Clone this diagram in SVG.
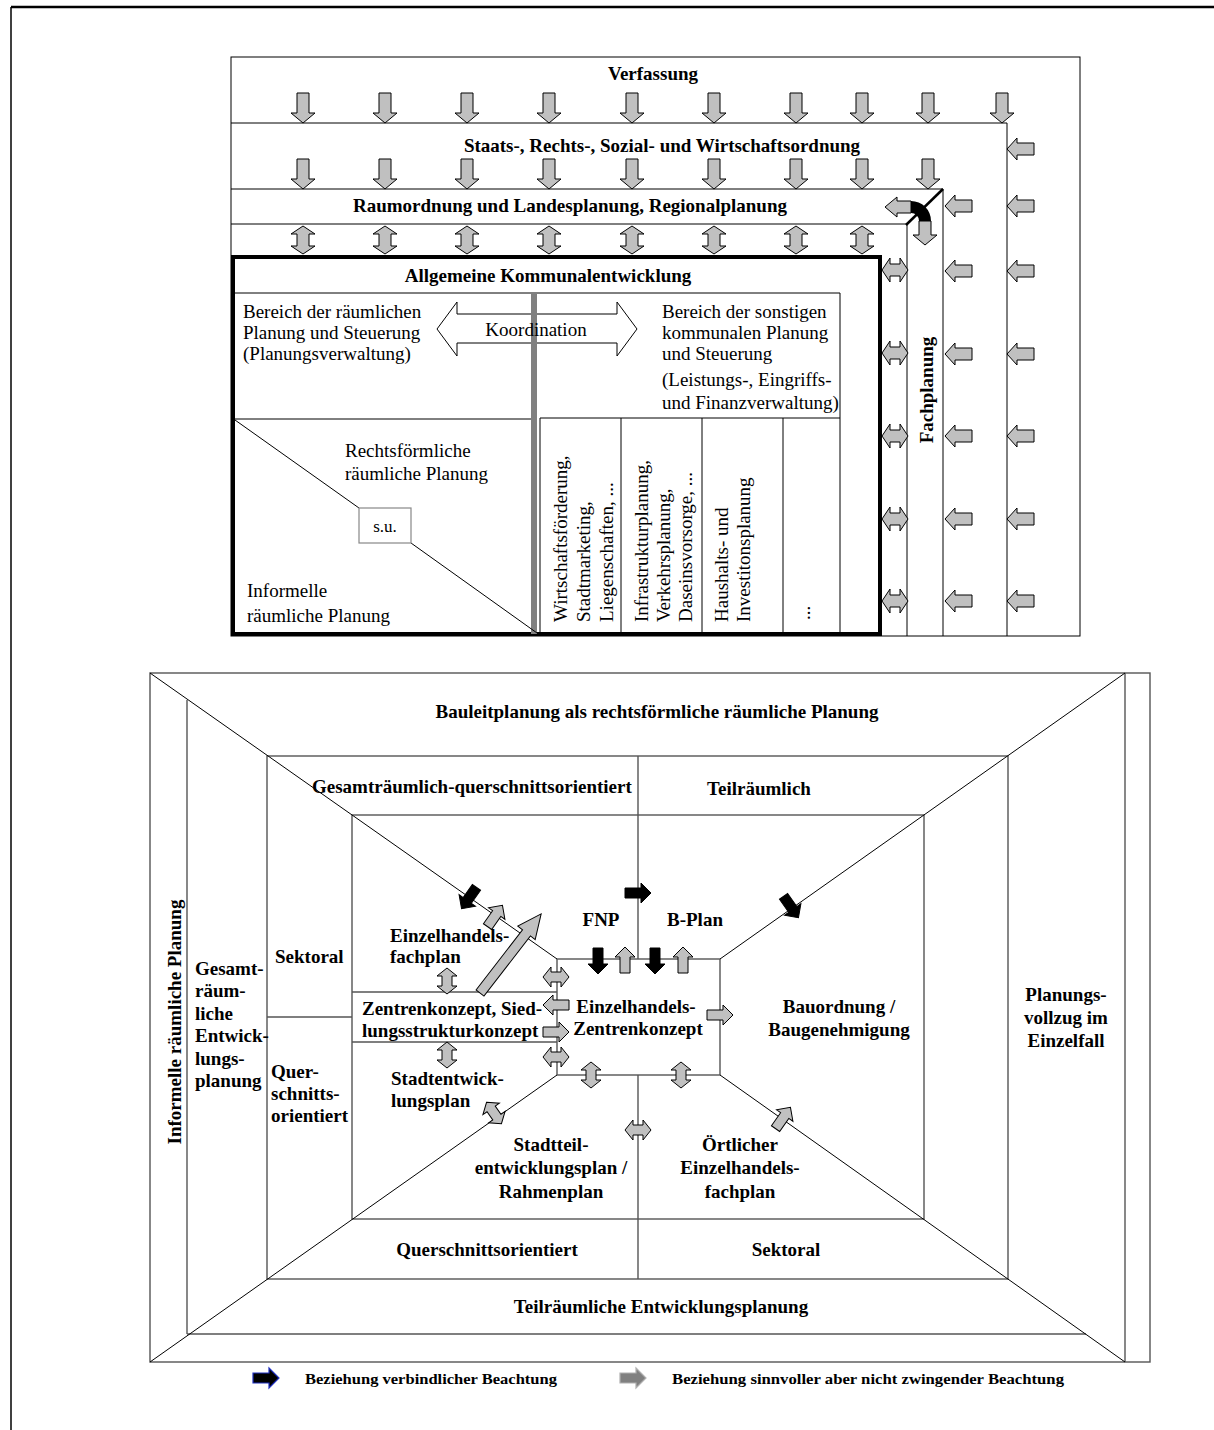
<svg xmlns="http://www.w3.org/2000/svg" width="1214" height="1430" viewBox="0 0 1214 1430">
<style>
.b{font-family:"Liberation Serif","Times New Roman",serif;font-weight:bold;font-size:19px;fill:#000}
.r{font-family:"Liberation Serif","Times New Roman",serif;font-size:19px;fill:#000}
.lg{font-family:"Liberation Serif","Times New Roman",serif;font-weight:bold;font-size:15px;fill:#000}
.m{text-anchor:middle}
.ln{stroke:#000;stroke-width:1;fill:none}
.gl{stroke:#555;stroke-width:1.4;fill:none}
.ga{fill:#c0c0c0;stroke:#000;stroke-width:1}
.ka{fill:#000;stroke:#000;stroke-width:1}
</style>
<defs>
<path id="dn" d="M-6,0 H6 V20 H12 L0,30 L-12,20 H-6 Z"/>
<path id="vd" d="M0,0 L12,8 H6 V20 H12 L0,28 L-12,20 H-6 V8 H-12 Z"/>
<path id="lt" d="M0,0 L10,-11 V-6 H27 V6 H10 V11 Z"/>
<path id="hd" d="M0,0 L8,-12 V-6 H18 V-12 L26,0 L18,12 V6 H8 V12 Z"/>
<path id="ar" d="M-13,-5 H3 V-10 L13,0 L3,10 V5 H-13 Z"/>
<path id="db" d="M-13,0 L-5,-10 V-5 H5 V-10 L13,0 L5,10 V5 H-5 V10 Z"/>
</defs>

<!-- page frame -->
<g id="frame">
<line x1="11" y1="7" x2="1214" y2="7" stroke="#000" stroke-width="2.5"/>
<line x1="11" y1="7" x2="11" y2="1430" stroke="#000" stroke-width="1.5"/>
</g>

<!-- ===== top diagram ===== -->
<g id="top-structure">
<rect x="231" y="57" width="849" height="579" class="ln"/>
<polyline points="231,123 1007,123 1007,636" class="ln"/>
<polyline points="231,189 943,189 943,636" class="ln"/>
<polyline points="231,224 907,224 907,636" class="ln"/>
</g>

<g id="verfassung"><text class="b m" x="653" y="80">Verfassung</text></g>
<g id="staatsordnung"><text class="b m" x="662" y="152">Staats-, Rechts-, Sozial- und Wirtschaftsordnung</text></g>
<g id="raumordnung"><text class="b m" x="570" y="212">Raumordnung und Landesplanung, Regionalplanung</text></g>
<g id="fachplanung"><text class="b m" transform="translate(933,390) rotate(-90)">Fachplanung</text></g>

<g id="kommunal">
<rect x="233" y="257" width="647" height="377" fill="none" stroke="#000" stroke-width="4"/>
<text class="b m" x="548" y="282">Allgemeine Kommunalentwicklung</text>
<polyline points="233,293 840,293 840,634" class="ln"/>
<line x1="233" y1="419" x2="531" y2="419" class="ln"/>
<polygon points="437,329 457,302 457,314 617,314 617,302 637,329 617,356 617,343 457,343 457,356" fill="none" stroke="#000" stroke-width="1"/>
<rect x="531" y="293" width="6" height="341" fill="#808080"/>
<text class="r m" x="536" y="336">Koordination</text>
<text class="r" x="243" y="318">Bereich der räumlichen</text>
<text class="r" x="243" y="339">Planung und Steuerung</text>
<text class="r" x="243" y="360">(Planungsverwaltung)</text>
<text class="r" x="662" y="318">Bereich der sonstigen</text>
<text class="r" x="662" y="339">kommunalen Planung</text>
<text class="r" x="662" y="360">und Steuerung</text>
<text class="r" x="662" y="386">(Leistungs-, Eingriffs-</text>
<text class="r" x="662" y="409">und Finanzverwaltung)</text>
<line x1="235" y1="420" x2="359" y2="508" class="ln"/>
<line x1="411" y1="543" x2="537" y2="633" class="ln"/>
<rect x="359" y="508" width="52" height="35" fill="#fff" stroke="#888" stroke-width="1.2"/>
<text class="r m" x="385" y="532" style="font-size:17px">s.u.</text>
<text class="r" x="345" y="457">Rechtsförmliche</text>
<text class="r" x="345" y="480">räumliche Planung</text>
<text class="r" x="247" y="597">Informelle</text>
<text class="r" x="247" y="622">räumliche Planung</text>
<polyline points="540,634 540,418 840,418" class="ln"/>
<line x1="621" y1="418" x2="621" y2="634" class="ln"/>
<line x1="702" y1="418" x2="702" y2="634" class="ln"/>
<line x1="783" y1="418" x2="783" y2="634" class="ln"/>
<text class="r" transform="translate(567,622) rotate(-90)">Wirtschaftsförderung,</text>
<text class="r" transform="translate(590,622) rotate(-90)">Stadtmarketing,</text>
<text class="r" transform="translate(613,622) rotate(-90)">Liegenschaften, ...</text>
<text class="r" transform="translate(648,622) rotate(-90)">Infrastrukturplanung,</text>
<text class="r" transform="translate(670,622) rotate(-90)">Verkehrsplanung,</text>
<text class="r" transform="translate(692,622) rotate(-90)">Daseinsvorsorge, ...</text>
<text class="r" transform="translate(728,622) rotate(-90)">Haushalts- und</text>
<text class="r" transform="translate(750,622) rotate(-90)">Investitonsplanung</text>
<text class="r" transform="translate(810,620) rotate(-90)">...</text>
</g>

<g id="top-arrows">
<g class="ga">
<use href="#dn" x="303" y="93"/><use href="#dn" x="385" y="93"/><use href="#dn" x="467" y="93"/><use href="#dn" x="549" y="93"/><use href="#dn" x="632" y="93"/>
<use href="#dn" x="714" y="93"/><use href="#dn" x="796" y="93"/><use href="#dn" x="862" y="93"/><use href="#dn" x="928" y="93"/><use href="#dn" x="1002" y="93"/>
<use href="#dn" x="303" y="159"/><use href="#dn" x="385" y="159"/><use href="#dn" x="467" y="159"/><use href="#dn" x="549" y="159"/><use href="#dn" x="632" y="159"/>
<use href="#dn" x="714" y="159"/><use href="#dn" x="796" y="159"/><use href="#dn" x="862" y="159"/><use href="#dn" x="928" y="159"/>
<use href="#vd" x="303" y="226"/><use href="#vd" x="385" y="226"/><use href="#vd" x="467" y="226"/><use href="#vd" x="549" y="226"/>
<use href="#vd" x="632" y="226"/><use href="#vd" x="714" y="226"/><use href="#vd" x="796" y="226"/><use href="#vd" x="862" y="226"/>
<use href="#lt" x="1007" y="149"/>
<use href="#lt" x="1007" y="206"/><use href="#lt" x="1007" y="271"/><use href="#lt" x="1007" y="354"/><use href="#lt" x="1007" y="436"/><use href="#lt" x="1007" y="519"/><use href="#lt" x="1007" y="601"/>
<use href="#lt" x="945" y="206"/><use href="#lt" x="945" y="271"/><use href="#lt" x="945" y="354"/><use href="#lt" x="945" y="436"/><use href="#lt" x="945" y="519"/><use href="#lt" x="945" y="601"/>
<use href="#hd" x="882" y="270"/><use href="#hd" x="882" y="353"/><use href="#hd" x="882" y="436"/><use href="#hd" x="882" y="519"/><use href="#hd" x="882" y="601"/>
<polygon points="911,201 897,201 897,197 885,207 897,217 897,213 911,213"/>
<polygon points="919,221 919,235 913,235 925,245 937,235 931,235 931,221"/>
</g>
<path d="M911,201 A20,20 0 0 1 931,221 L919,221 A8,8 0 0 0 911,213 Z" fill="#000"/>
<line x1="943" y1="189" x2="906" y2="225" stroke="#000" stroke-width="2.5"/>
</g>

<!-- ===== bottom diagram ===== -->
<g id="bottom-structure">
<rect x="150" y="673" width="1000" height="689" class="gl"/>
<line x1="1125" y1="673" x2="1125" y2="1362" class="gl"/>
<line x1="187" y1="700" x2="187" y2="1334" class="gl"/>
<line x1="187" y1="1334" x2="1086" y2="1334" class="gl"/>
<rect x="267" y="756" width="741" height="523" class="gl"/>
<rect x="352" y="815" width="572" height="404" class="gl"/>
<rect x="557" y="959" width="163" height="116" class="gl"/>
<line x1="638" y1="756" x2="638" y2="959" class="gl"/>
<line x1="638" y1="1075" x2="638" y2="1279" class="gl"/>
<line x1="267" y1="1017" x2="352" y2="1017" class="gl"/>
<line x1="352" y1="992" x2="557" y2="992" class="gl"/>
<line x1="352" y1="1042" x2="557" y2="1042" class="gl"/>
<line x1="150" y1="673" x2="557" y2="959" class="ln"/>
<line x1="1125" y1="673" x2="720" y2="959" class="ln"/>
<line x1="150" y1="1362" x2="557" y2="1075" class="ln"/>
<line x1="1125" y1="1362" x2="720" y2="1075" class="ln"/>
</g>

<g id="informelle"><text class="b m" transform="translate(181,1022) rotate(-90)">Informelle räumliche Planung</text></g>
<g id="bauleitplanung"><text class="b m" x="657" y="718">Bauleitplanung als rechtsförmliche räumliche Planung</text></g>
<g id="teilraeumliche-ep"><text class="b m" x="661" y="1313">Teilräumliche Entwicklungsplanung</text></g>
<g id="planungsvollzug">
<text class="b m" x="1066" y="1001">Planungs-</text>
<text class="b m" x="1066" y="1024">vollzug im</text>
<text class="b m" x="1066" y="1047">Einzelfall</text>
</g>
<g id="gesamtraeumliche-ep">
<text class="b" x="195" y="975">Gesamt-</text>
<text class="b" x="195" y="997">räum-</text>
<text class="b" x="195" y="1020">liche</text>
<text class="b" x="195" y="1042">Entwick-</text>
<text class="b" x="195" y="1065">lungs-</text>
<text class="b" x="195" y="1087">planung</text>
</g>
<g id="gesamt-quer"><text class="b" x="312" y="793">Gesamträumlich-querschnittsorientiert</text></g>
<g id="teilraeumlich"><text class="b m" x="759" y="795">Teilräumlich</text></g>
<g id="sektoral-l"><text class="b" x="275" y="963">Sektoral</text></g>
<g id="quer-l">
<text class="b" x="271" y="1078">Quer-</text>
<text class="b" x="271" y="1100">schnitts-</text>
<text class="b" x="271" y="1122">orientiert</text>
</g>
<g id="quer-b"><text class="b m" x="487" y="1256">Querschnittsorientiert</text></g>
<g id="sektoral-b"><text class="b m" x="786" y="1256">Sektoral</text></g>
<g id="fnp"><text class="b m" x="601" y="926">FNP</text></g>
<g id="bplan"><text class="b m" x="695" y="926">B-Plan</text></g>
<g id="ehfp">
<text class="b" x="390" y="942">Einzelhandels-</text>
<text class="b" x="390" y="963">fachplan</text>
</g>
<g id="zentrenkonzept">
<text class="b" x="362" y="1015">Zentrenkonzept, Sied-</text>
<text class="b" x="362" y="1037">lungsstrukturkonzept</text>
</g>
<g id="ehzk">
<text class="b m" x="636" y="1013">Einzelhandels-</text>
<text class="b m" x="638" y="1035">Zentrenkonzept</text>
</g>
<g id="stadtentwicklungsplan">
<text class="b" x="391" y="1085">Stadtentwick-</text>
<text class="b" x="391" y="1107">lungsplan</text>
</g>
<g id="bauordnung">
<text class="b m" x="839" y="1013">Bauordnung /</text>
<text class="b m" x="839" y="1036">Baugenehmigung</text>
</g>
<g id="stadtteil">
<text class="b m" x="551" y="1151">Stadtteil-</text>
<text class="b m" x="551" y="1174">entwicklungsplan /</text>
<text class="b m" x="551" y="1198">Rahmenplan</text>
</g>
<g id="oertlicher">
<text class="b m" x="740" y="1151">Örtlicher</text>
<text class="b m" x="740" y="1174">Einzelhandels-</text>
<text class="b m" x="740" y="1198">fachplan</text>
</g>

<g id="connectors">
<g class="ka">
<use href="#ar" transform="translate(469,898) rotate(125)"/>
<use href="#ar" transform="translate(791,907) rotate(55)"/>
<use href="#ar" transform="translate(638,893)"/>
<use href="#ar" transform="translate(598,961) rotate(90)"/>
<use href="#ar" transform="translate(655,961) rotate(90)"/>
</g>
<g class="ga">
<use href="#ar" transform="translate(495,916) rotate(-55)"/>
<use href="#ar" transform="translate(625,960) rotate(-90)"/>
<use href="#ar" transform="translate(683,960) rotate(-90)"/>
<use href="#ar" transform="translate(556,1005) rotate(180)"/>
<use href="#ar" transform="translate(556,1032)"/>
<use href="#ar" transform="translate(720,1015)"/>
<use href="#ar" transform="translate(783,1118) rotate(-55)"/>
<use href="#db" transform="translate(556,977)"/>
<use href="#db" transform="translate(556,1057)"/>
<use href="#db" transform="translate(638,1130)"/>
<use href="#db" transform="translate(447,981) rotate(90)"/>
<use href="#db" transform="translate(447,1055) rotate(90)"/>
<use href="#db" transform="translate(591,1075) rotate(90)"/>
<use href="#db" transform="translate(681,1075) rotate(90)"/>
<use href="#db" transform="translate(494,1113) rotate(55)"/>
<path d="M0,-5 H76 V-11 L100,0 L76,11 V5 H0 Z" transform="translate(480,993) rotate(-52.3)"/>
</g>
</g>

<g id="legend">
<use href="#ar" transform="translate(266,1378)" fill="#000" stroke="#2030c0" stroke-width="1.2"/>
<text class="lg" x="305" y="1384" textLength="252" lengthAdjust="spacingAndGlyphs">Beziehung verbindlicher Beachtung</text>
<use href="#ar" transform="translate(633,1378)" fill="#808080" stroke="#b0b0b0" stroke-width="1.2"/>
<text class="lg" x="672" y="1384" textLength="392" lengthAdjust="spacingAndGlyphs">Beziehung sinnvoller aber nicht zwingender Beachtung</text>
</g>
</svg>
